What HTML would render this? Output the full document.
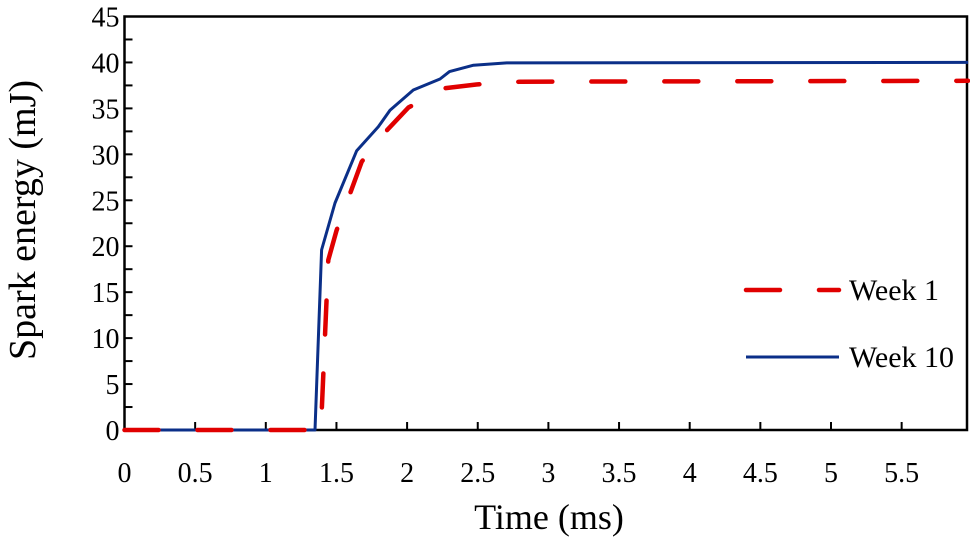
<!DOCTYPE html>
<html><head><meta charset="utf-8"><style>
body{margin:0;background:#fff;}
svg text{font-family:"Liberation Serif","Times New Roman",serif;fill:#000;}
</style></head><body>
<svg width="970" height="538" viewBox="0 0 970 538">
<g id="frame"></g>
<g id="ticks"></g>
<g id="series"></g>
<text x="549" y="529" font-size="36" text-anchor="middle">Time (ms)</text>
<text transform="translate(35,220) rotate(-90)" font-size="38" text-anchor="middle">Spark energy (mJ)</text>
<g>
<line x1="746" y1="290" x2="839" y2="290" stroke="#e00000" stroke-width="4.5" stroke-dasharray="34 39" stroke-linecap="round"/>
<text x="849" y="300" font-size="30">Week 1</text>
<line x1="746" y1="357" x2="839" y2="357" stroke="#0b2f88" stroke-width="3"/>
<text x="849" y="367" font-size="30">Week 10</text>
</g>
</svg>
<script>
const week1T = [0, 1.39, 1.442, 1.5, 1.679, 1.856, 2.01, 2.27, 2.49, 2.80, 5.97];
const week1E = [0, 0, 18.5, 21.7, 29.2, 32.6, 35.1, 37.2, 37.6, 37.9, 38];
const week10T = [0, 1.348, 1.395, 1.49, 1.643, 1.796, 1.879, 2.044, 2.233, 2.30, 2.47, 2.705, 5.97];
const week10E = [0, 0, 19.6, 24.7, 30.4, 33.0, 34.8, 37.0, 38.2, 39.0, 39.7, 39.95, 40];
const xTickLabels = ["0","0.5","1","1.5","2","2.5","3","3.5","4","4.5","5","5.5"];
const yTickLabels = ["0","5","10","15","20","25","30","35","40","45"];

const NS="http://www.w3.org/2000/svg";
const L=124.5, R=967, T=16.5, B=430;
const xMax=(R-L)/141.3;
const sx=t=>L+t/xMax*(R-L);
const sy=v=>B-v/45*(B-T);
function mk(tag,attrs,parent){const e=document.createElementNS(NS,tag);for(const k in attrs)e.setAttribute(k,attrs[k]);parent.appendChild(e);return e;}
const frame=document.getElementById('frame');
const fr=mk('rect',{x:L,y:T,width:R-L,height:B-T,fill:'none',stroke:'#000','stroke-width':2.5},frame);


const tg=document.getElementById('ticks');
xTickLabels.forEach(s=>{const v=parseFloat(s);const x=sx(v);
 const tk=mk('line',{x1:x,y1:B,x2:x,y2:B-8,stroke:'#000','stroke-width':2},tg);
 
 
 const t=mk('text',{x:x,y:B+52,'font-size':28,'text-anchor':'middle'},tg);t.textContent=s;
 
 
});
for(let v=0;v<=45;v+=2.5){const y=sy(v);
 const tk=mk('line',{x1:L,y1:y,x2:L+8,y2:y,stroke:'#000','stroke-width':2},tg);
 
 
}
yTickLabels.forEach(s=>{const y=sy(parseFloat(s));
 const t=mk('text',{x:L-5,y:y+10,'font-size':28,'text-anchor':'end'},tg);t.textContent=s;
 
 
});
const sg=document.getElementById('series');
function path(ts,es){return ts.map((t,i)=>(i?'L':'M')+sx(t).toFixed(1)+','+sy(es[i]).toFixed(1)).join('');}
const p10=mk('path',{d:path(week10T,week10E),fill:'none',stroke:'#0b2f88','stroke-width':3,'stroke-linejoin':'round'},sg);


const p1=mk('path',{d:path(week1T,week1E),fill:'none',stroke:'#e00000','stroke-width':4.5,'stroke-dasharray':'34 39','stroke-linecap':'round'},sg);


</script>
</body></html>
